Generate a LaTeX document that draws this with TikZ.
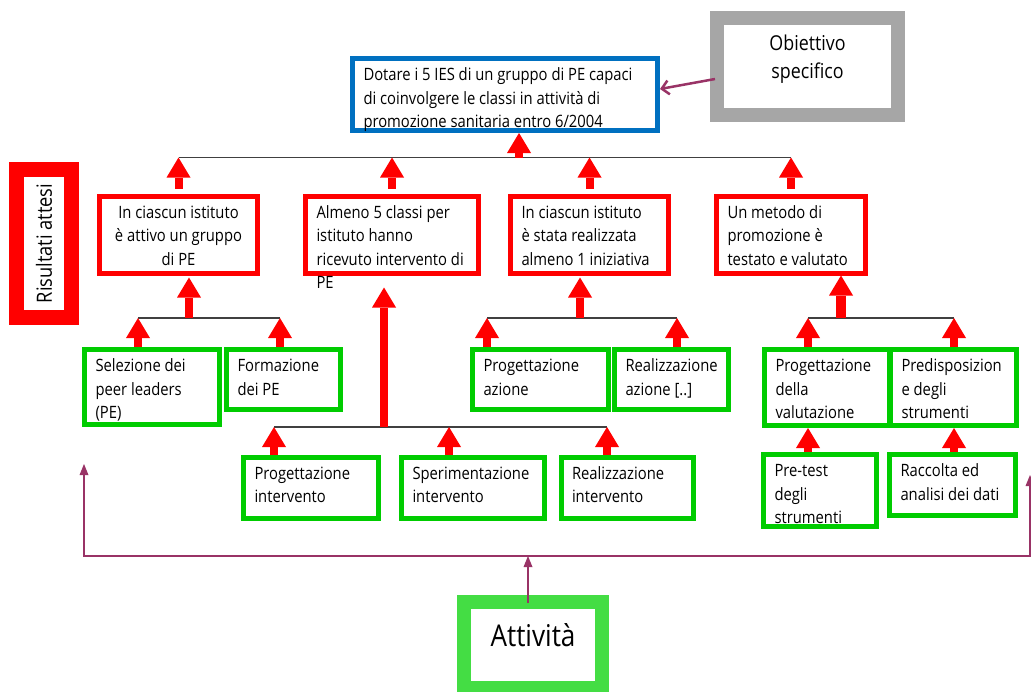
\documentclass[tikz,border=0pt]{standalone}
\usepackage{fontspec}
\setmainfont{Open Sans}[FakeStretch=0.87]
\usetikzlibrary{arrows.meta}

\definecolor{rosso}{HTML}{FF0000}
\definecolor{blu}{HTML}{0070C0}
\definecolor{grigio}{HTML}{A6A6A6}
\definecolor{verde}{HTML}{00CC00}
\definecolor{verdechiaro}{HTML}{44DD44}
\definecolor{viola}{HTML}{993366}
\definecolor{linea}{HTML}{404040}

% testo in alto nella casella: larghezza, altezza, righe
\newcommand{\cella}[4][l]{%
  \parbox[c][\dimexpr#3pt-12pt\relax][t]{\dimexpr#2pt-22pt\relax}{%
    \if c#1\centering\fi
    \begin{tabular}[t]{@{}#1@{}}#4\end{tabular}}}

\tikzset{
  casella/.style={rectangle, fill=white, line width=5pt, outer sep=2.5pt,
    inner xsep=11pt, inner ysep=6pt, anchor=north west,
    font=\fontsize{17}{23.5}\selectfont},
  obiettivo/.style={casella, draw=blu},
  risultato/.style={casella, draw=rosso},
  attivita/.style={casella, draw=verde},
  cornice/.style={casella, line width=14pt, outer sep=7pt},
  freccia/.style={draw=rosso, line width=8pt,
    -{Triangle[width=24pt,length=20pt,line width=0pt]}},
  ramo/.style={draw=linea, line width=1.2pt},
  legame/.style={draw=viola, line width=2pt},
  punta/.tip={Triangle[width=9pt,length=11pt,line width=0pt]}
}

\begin{document}
\begin{tikzpicture}[x=1pt,y=-1pt]
  \useasboundingbox (0,0) rectangle (1031,691);

  \node[obiettivo] (ob) at (350,56)
  {\cella{305}{72}{Dotare i 5 IES di un gruppo di PE capaci\\
      di coinvolgere le classi in attività di\\
      promozione sanitaria entro 6/2004}};

  \node[cornice, draw=grigio, font=\fontsize{20.5}{28}\selectfont] (spec) at (710,11)
  {\cella[c]{181}{97}{\rule{0pt}{26pt}Obiettivo\\specifico}};

  \node[draw=rosso, line width=15pt, outer sep=7.5pt, inner sep=0pt,
    rotate=90, minimum width=148pt, minimum height=55pt,
    font=\fontsize{21}{24}\selectfont] (ris) at (44,243.5) {Risultati attesi};

  % risultati attesi
  \node[risultato] (r1) at (97,193.5)
  {\cella[c]{158}{77}{In ciascun istituto\\è attivo un gruppo\\di PE}};
  \node[risultato] (r2) at (303,193.5)
  {\cella{173}{77}{Almeno 5 classi per\\istituto hanno\\ricevuto intervento di\\PE}};
  \node[risultato] (r3) at (508,193.5)
  {\cella{158}{77}{In ciascun istituto\\è stata realizzata\\almeno 1 iniziativa}};
  \node[risultato] (r4) at (714,193.5)
  {\cella{149}{77}{Un metodo di\\promozione è\\testato e valutato}};

  % attivita
  \node[attivita] (g1) at (82,347)
  {\cella{135}{75}{Selezione dei\\peer leaders\\(PE)}};
  \node[attivita] (g2) at (224,347)
  {\cella{114}{60}{Formazione\\dei PE}};
  \node[attivita] (g3) at (241,454.5)
  {\cella{135}{61}{Progettazione\\intervento}};
  \node[attivita] (g4) at (399,454.5)
  {\cella{142.5}{61}{Sperimentazione\\intervento}};
  \node[attivita] (g5) at (558.5,454.5)
  {\cella{132.5}{61}{Realizzazione\\intervento}};
  \node[attivita] (g6) at (470,347)
  {\cella{135.5}{60}{Progettazione\\azione}};
  \node[attivita] (g7) at (612,347)
  {\cella{114}{60}{Realizzazione\\azione [..]}};
  \node[attivita] (g8) at (762,347)
  {\cella{125}{76}{Progettazione\\della\\valutazione}};
  \node[attivita] (g9) at (888,347)
  {\cella{126}{76}{Predisposizion\\e degli\\strumenti}};
  \node[attivita] (g10) at (761,452)
  {\cella{113}{72}{Pre-test\\degli\\strumenti}};
  \node[attivita] (g11) at (887,452)
  {\cella{126}{61}{Raccolta ed\\analisi dei dati}};

  \node[cornice, draw=verdechiaro, font=\fontsize{30}{34}\selectfont] (att) at (457,595)
  {\cella[c]{138}{86}{\rule{0pt}{38pt}Attività}};

  % livello obiettivo
  \coordinate (t0) at (519,157.5);
  \draw[ramo] (r1.north |- t0) -- (r4.north |- t0);
  \draw[freccia] (t0) -- (t0 |- ob.south);
  \foreach \r in {r1,r2,r3,r4}
    \draw[freccia, shorten <=5pt] (\r.north) -- (\r.north |- t0);

  % primo risultato
  \coordinate (u1) at (189,318);
  \coordinate (u1a) at (138,318);
  \coordinate (u1b) at (280,318);
  \draw[ramo] (u1a) -- (u1b);
  \draw[freccia, shorten >=2pt] (u1) -- (u1 |- r1.south);
  \draw[freccia] (u1a |- g1.north) -- (u1a);
  \draw[freccia] (u1b |- g2.north) -- (u1b);

  % secondo risultato
  \coordinate (u2) at (384,427);
  \coordinate (u2a) at (274,427);
  \coordinate (u2b) at (449,427);
  \coordinate (u2c) at (607,427);
  \draw[ramo] (u2a) -- (u2c);
  \draw[freccia, shorten >=12pt] (u2) -- (u2 |- r2.south);
  \draw[freccia] (u2a |- g3.north) -- (u2a);
  \draw[freccia] (u2b |- g4.north) -- (u2b);
  \draw[freccia] (u2c |- g5.north) -- (u2c);

  % terzo risultato
  \coordinate (u3) at (580,318);
  \coordinate (u3a) at (487,318);
  \coordinate (u3b) at (677,318);
  \draw[ramo] (u3a) -- (u3b);
  \draw[freccia, shorten >=2pt] (u3) -- (u3 |- r3.south);
  \draw[freccia] (u3a |- g6.north) -- (u3a);
  \draw[freccia] (u3b |- g7.north) -- (u3b);

  % quarto risultato
  \coordinate (u4) at (841,318);
  \coordinate (u4a) at (808,318);
  \coordinate (u4b) at (954,318);
  \draw[ramo] (u4a) -- (u4b);
  \draw[freccia, line width=10pt] (u4) -- (u4 |- r4.south);
  \draw[freccia] (u4a |- g8.north) -- (u4a);
  \draw[freccia] (u4b |- g9.north) -- (u4b);
  \draw[freccia] (u4a |- g10.north) -- (u4a |- g8.south);
  \draw[freccia] (u4b |- g11.north) -- (u4b |- g9.south);

  % legami viola
  \coordinate (pl) at (84,464);
  \coordinate (pbl) at (84,556);
  \coordinate (pbr) at (1030,556);
  \coordinate (pr) at (1030,475);
  \coordinate (pa) at (528,556);
  \draw[legame, {punta}-{punta}] (pl) -- (pbl) -- (pbr) -- (pr);
  \draw[legame, -{punta}, shorten <=-8pt] (pa |- att.north) -- (pa);
  \draw[legame, line width=2.5pt, -{Straight Barb[length=7pt,width=14pt]}]
    ([shift={(5,12.5)}]spec.west) -- ([shift={(0,-5.5)}]ob.east);
\end{tikzpicture}
\end{document}
